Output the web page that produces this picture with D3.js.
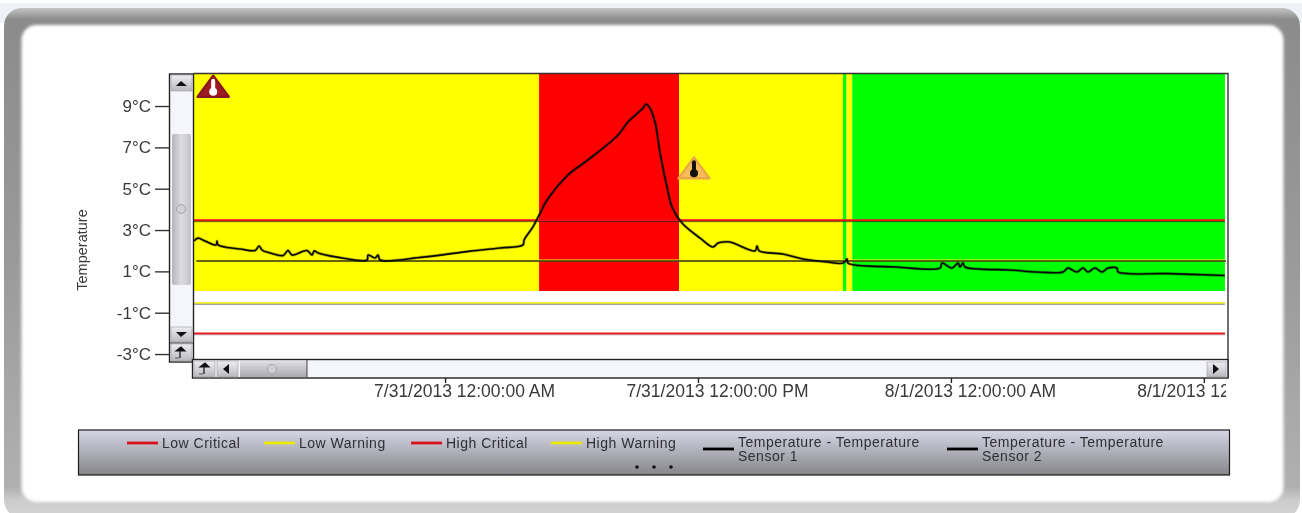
<!DOCTYPE html>
<html>
<head>
<meta charset="utf-8" />
<title>Temperature chart</title>
<style>
html, body { margin:0; padding:0; background:#fff; overflow:hidden; }
svg { display:block; filter:blur(0.4px); }
text { font-family:"Liberation Sans", Arial, sans-serif; fill:#3a3a3a; }
</style>
</head>
<body>
<svg id="chart" width="1302" height="513"></svg>
<script src="https://d3js.org/d3.v7.min.js"></script>
<script>
// hours are counted from 7/31/2013 12:00:00 AM
var sensor1Hours = [-11.91,-11.72,-11.39,-10.86,-10.82,-10.77,-10.44,-9.72,-9.01,-8.82,-8.68,-8.30,-7.68,-7.45,-7.26,-6.55,-6.31,-6.21,-6.02,-5.12,-3.70,-3.65,-3.32,-3.18,-3.08,-1.04,1.19,2.61,3.70,3.75,4.17,4.51,4.84,5.83,6.78,8.21,8.68,9.39,9.54,9.72,9.96,10.20,10.53,10.77,11.24,12.10,12.71,12.95,13.19,13.52,14.71,14.80,14.90,16.03,16.98,18.12,18.88,19.07,19.12,21.44,23.48,23.58,24.05,24.34,24.43,24.57,24.67,25.38,26.80,28.08,29.32,29.55,29.98,30.27,30.50,30.83,31.17,31.45,31.88,31.93,34.39,37.00]
var sensor1Temps = [2.47,2.61,2.47,2.28,2.47,2.28,2.18,2.08,2.01,2.23,2.03,1.89,1.77,2.01,1.79,2.01,1.79,1.99,1.89,1.69,1.55,1.79,1.65,1.79,1.55,1.69,1.98,2.13,2.28,2.52,3.15,3.82,4.45,5.66,6.39,7.60,8.23,8.90,9.10,8.90,8.23,6.73,5.08,4.11,3.34,2.61,2.18,2.37,2.42,2.42,1.99,2.23,1.99,1.84,1.60,1.45,1.40,1.60,1.40,1.21,1.16,1.40,1.16,1.40,1.21,1.40,1.21,1.11,1.07,0.97,0.97,1.16,0.97,1.16,0.97,1.16,0.97,1.16,1.16,0.97,0.89,0.80]
var sensor2Hours = [-11.80,37.05]
var sensor2Temps = [1.50,1.50]

var lowCritical = -2.03
var lowWarning = -0.55
var highCritical = 3.45
var highWarning = 1.50

var bandStart = [-11.91,4.46,11.10,18.88,19.05,19.32]
var bandEnd = [4.46,11.10,18.88,19.05,19.32,37.00]
var bandColor = ["#ffff00","#ff0000","#ffff00","#00ff00","#ffff00","#00ff00"]
var bandTop = 10.55
var bandBottom = 0.05

var markerHours = [-11.0,11.81]
var markerTemps = [9.45,5.5]
var markerFill = ["#a01c24","#f8bc58"]
var markerGlass = ["#ffffff","#111111"]

var yTicks = [9,7,5,3,1,-1,-3]
var xTickHours = [0,12,24,36]
var xTickLabels = ["7/31/2013 12:00:00 AM","7/31/2013 12:00:00 PM","8/1/2013 12:00:00 AM","8/1/2013 12:00:00 PM"]

var legendNames = [["Low Critical"],["Low Warning"],["High Critical"],["High Warning"],["Temperature - Temperature","Sensor 1"],["Temperature - Temperature","Sensor 2"]]
var legendColors = ["#d8101c","#e8e800","#d8101c","#e8e800","#000000","#000000"]
var legendX = [127,264,411,551,703,947]

var plot = {left:194, right:1226, top:74, bottom:359}

function hourDate(h) { return new Date(Date.UTC(2013,6,31) + h*3600000) }

var x = d3.scaleUtc().domain([hourDate(-11.91),hourDate(37.05)]).range([plot.left,plot.right])
var y = d3.scaleLinear().domain([-3.24,10.55]).range([plot.bottom,plot.top])

var svg = d3.select("#chart")
var defs = svg.append("defs")

function gradient(id, vertical, stops) {
    var g = defs.append("linearGradient").attr("id",id)
        .attr("x1",0).attr("y1",0).attr("x2",vertical?0:1).attr("y2",vertical?1:0)
    stops.forEach(function(s){ g.append("stop").attr("offset",s[0]).attr("stop-color",s[1]) })
}
gradient("frameV",true,[[0,"#c4c4c4"],[0.022,"#8c8c8c"],[0.04,"#8c8c8c"],[0.5,"#9a9a9a"],[0.94,"#b0b0b0"],[0.965,"#cccccc"],[1,"#d4d4d4"]])
gradient("legendFill",true,[[0,"#d6d6e6"],[0.5,"#aeaeb8"],[1,"#85858a"]])
gradient("thumbV",false,[[0,"#b4b4ba"],[0.5,"#dcdce2"],[1,"#c0c0c6"]])
gradient("thumbH",true,[[0,"#dedee4"],[1,"#a8a8ae"]])
gradient("btn",true,[[0,"#eeeef2"],[1,"#b8b8be"]])
defs.append("filter").attr("id","soft").attr("x","-5%").attr("y","-5%").attr("width","110%").attr("height","110%")
    .append("feGaussianBlur").attr("stdDeviation",1.5)
defs.append("clipPath").attr("id","labelClip").append("rect")
    .attr("x",300).attr("y",0).attr("width",926).attr("height",30)

// rounded picture frame
svg.append("rect").attr("x",0).attr("y",3).attr("width",1302).attr("height",20).attr("fill","#eef2f7")
svg.append("rect").attr("x",4).attr("y",8).attr("width",1296).attr("height",510).attr("rx",18).attr("fill","url(#frameV)")
svg.append("line").attr("x1",6).attr("x2",6).attr("y1",28).attr("y2",490).attr("stroke","#d0d0d0").attr("stroke-width",3).attr("filter","url(#soft)")
svg.append("rect").attr("x",21.5).attr("y",25).attr("width",1262).attr("height",477).attr("rx",15).attr("fill","#fff").attr("filter","url(#soft)")

// plot background
svg.append("rect").attr("x",plot.left).attr("y",plot.top).attr("width",plot.right-plot.left).attr("height",plot.bottom-plot.top).attr("fill","#fff")

svg.append("g").selectAll("rect").data(bandStart).join("rect")
    .attr("x",function(d){ return x(hourDate(d)) })
    .attr("y",y(bandTop))
    .attr("width",function(d,i){ return x(hourDate(bandEnd[i]))-x(hourDate(d)) })
    .attr("height",y(bandBottom)-y(bandTop))
    .attr("fill",function(d,i){ return bandColor[i] })

// threshold lines, each with a thin dark edge under it
var thresholdValues = [highWarning,lowWarning,highCritical,lowCritical]
var thresholdColors = ["#ffff00","#f4f040","#f01018","#e81820"]
var thresholdEdges = [0,0.5,0.7,0.25]
var lineLeft = hourDate(-11.91), lineRight = hourDate(37.00)

svg.append("g").selectAll("line").data(thresholdValues).join("line")
    .attr("x1",x(lineLeft)).attr("x2",x(lineRight))
    .attr("y1",function(d){ return y(d)-0.5 }).attr("y2",function(d){ return y(d)-0.5 })
    .attr("stroke",function(d,i){ return thresholdColors[i] }).attr("stroke-width",2)
svg.append("g").selectAll("line").data(thresholdValues).join("line")
    .attr("x1",x(lineLeft)).attr("x2",x(lineRight))
    .attr("y1",function(d){ return y(d)+0.9 }).attr("y2",function(d){ return y(d)+0.9 })
    .attr("stroke","#222").attr("stroke-width",1)
    .attr("stroke-opacity",function(d,i){ return thresholdEdges[i] })

// sensors
var line = d3.line()
    .x(function(d){ return x(hourDate(d[0])) })
    .y(function(d){ return y(d[1]) })
    .curve(d3.curveCatmullRom.alpha(0.5))

var sensor1 = d3.zip(sensor1Hours,sensor1Temps)
var sensor2 = d3.zip(sensor2Hours,sensor2Temps)

svg.append("path").datum(sensor2).attr("d",line).attr("fill","none")
    .attr("stroke","#1a1a10").attr("stroke-width",1.5).attr("stroke-opacity",0.9)
svg.append("path").datum(sensor1).attr("d",line).attr("fill","none")
    .attr("stroke","#000").attr("stroke-opacity",0.3).attr("stroke-width",3).attr("stroke-linejoin","round")
svg.append("path").datum(sensor1).attr("d",line).attr("fill","none")
    .attr("stroke","#0a0a0a").attr("stroke-width",1.6).attr("stroke-linejoin","round")

// alarm markers
var markers = svg.append("g").selectAll("g").data(markerHours).join("g")
    .attr("transform",function(d,i){ return "translate("+[x(hourDate(d)),y(markerTemps[i])]+")" })
markers.append("path").attr("d","M0,-21L15.5,0L-15.5,0Z")
    .attr("fill",function(d,i){ return markerFill[i] })
    .attr("stroke",function(d,i){ return i ? "#e8a848" : "#8a1820" })
    .attr("stroke-width",2.5).attr("stroke-linejoin","round")
markers.append("rect").attr("x",-2).attr("y",-18).attr("width",4).attr("height",13).attr("rx",2)
    .attr("fill",function(d,i){ return markerGlass[i] })
markers.append("circle").attr("cy",-5).attr("r",4)
    .attr("fill",function(d,i){ return markerGlass[i] })

// frame of the plot
svg.append("path").attr("d","M193.5,73.5H1228V378").attr("fill","none").attr("stroke","#333").attr("stroke-width",1.4)

// scroll bars
function button(bx,by,w,h) {
    svg.append("rect").attr("x",bx).attr("y",by).attr("width",w).attr("height",h).attr("fill","url(#btn)")
        .attr("stroke","#9a9aa0").attr("stroke-width",0.6)
}
function arrow(d) { svg.append("path").attr("d",d).attr("fill","#111") }
function resetIcon(cx,cy) {
    svg.append("path").attr("d","M"+(cx-1)+","+(cy+5)+"V"+(cy-2)+"M"+(cx-5)+","+(cy-2)+"H"+(cx+4)+"L"+cx+","+(cy-6)+"Z")
        .attr("fill","#111").attr("stroke","#111").attr("stroke-width",1.2)
    svg.append("circle").attr("cx",cx-5).attr("cy",cy+5).attr("r",0.7).attr("fill","#333")
    svg.append("circle").attr("cx",cx-3).attr("cy",cy+5).attr("r",0.7).attr("fill","#333")
}

svg.append("rect").attr("x",169.5).attr("y",74).attr("width",24).attr("height",288).attr("fill","#f5f6fc").attr("stroke","#222").attr("stroke-width",1.4)
svg.append("rect").attr("x",172).attr("y",134).attr("width",19).attr("height",151).attr("rx",2).attr("fill","url(#thumbV)")
svg.append("circle").attr("cx",181).attr("cy",209).attr("r",4.5).attr("fill","#d0d0d6").attr("stroke","#a4a4aa")
button(171,75,21,16)
arrow("M176,86L181,81L187,86Z")
button(171,327,21,15)
arrow("M176,332L187,332L181,337Z")
svg.append("line").attr("x1",170).attr("x2",193).attr("y1",343).attr("y2",343).attr("stroke","#333")
button(171,344,21,17)
resetIcon(181,353)

svg.append("rect").attr("x",192.5).attr("y",359.5).attr("width",1035.5).attr("height",18.5).attr("fill","#f5f6fc").attr("stroke","#222").attr("stroke-width",1.4)
button(194,361,21,16)
resetIcon(205,369)
button(217,361,21,16)
arrow("M223,369L229,364L229,374Z")
svg.append("rect").attr("x",240).attr("y",361).attr("width",67).attr("height",16).attr("fill","url(#thumbH)")
svg.append("line").attr("x1",307).attr("x2",307).attr("y1",360).attr("y2",378).attr("stroke","#444")
svg.append("circle").attr("cx",272).attr("cy",369).attr("r",4.5).attr("fill","#d0d0d6").attr("stroke","#a4a4aa")
button(1207,362,19,15)
arrow("M1213,364L1219,369L1213,374Z")

// axes
var yAxis = svg.append("g").attr("transform","translate(169,0)")
    .call(d3.axisLeft(y).tickValues(yTicks).tickSize(14).tickPadding(4).tickFormat(function(d){ return d+"°C" }))
yAxis.select(".domain").remove()
yAxis.selectAll("line").attr("stroke","#333").attr("stroke-width",1.4)
yAxis.selectAll("text").attr("font-size",17).style("fill","#3a3a3a")

var xAxis = svg.append("g").attr("transform","translate(0,378)").attr("clip-path","url(#labelClip)")
    .call(d3.axisBottom(x).tickValues(xTickHours.map(hourDate)).tickSize(5).tickPadding(2)
        .tickFormat(function(d,i){ return xTickLabels[i] }))
xAxis.select(".domain").remove()
xAxis.selectAll("line").attr("stroke","#222").attr("stroke-width",1.4)
xAxis.selectAll("text").attr("font-size",17.5).attr("dx",19).style("fill","#3a3a3a")

svg.append("text").attr("transform","translate(87,250) rotate(-90)").attr("text-anchor","middle")
    .attr("font-size",14.5).style("font-family","'Liberation Sans Narrow','Liberation Sans',sans-serif")
    .text("Temperature")

// legend
svg.append("rect").attr("x",78.5).attr("y",430).attr("width",1151).attr("height",45)
    .attr("fill","url(#legendFill)").attr("stroke","#1c1c1c").attr("stroke-width",1.2)

var items = svg.append("g").selectAll("g").data(legendNames).join("g")
    .attr("transform",function(d,i){ return "translate("+legendX[i]+","+(d.length>1?449:443)+")" })
items.append("line").attr("x1",0).attr("x2",31).attr("y1",0).attr("y2",0)
    .attr("stroke",function(d,i){ return legendColors[i] }).attr("stroke-width",2.8)
items.selectAll("text").data(function(d){ return d }).join("text")
    .attr("x",35)
    .attr("y",function(d,i,n){ return n.length>1 ? -7+i*14 : 0 })
    .attr("dy","0.36em")
    .attr("font-size",14)
    .attr("letter-spacing",0.5)
    .style("fill","#2e2e34")
    .text(function(d){ return d })

svg.append("g").selectAll("circle").data(["a","b","c"]).join("circle")
    .attr("cx",function(d,i){ return 637+i*17 }).attr("cy",467).attr("r",1.8).attr("fill","#111")
</script>
</body>
</html>
